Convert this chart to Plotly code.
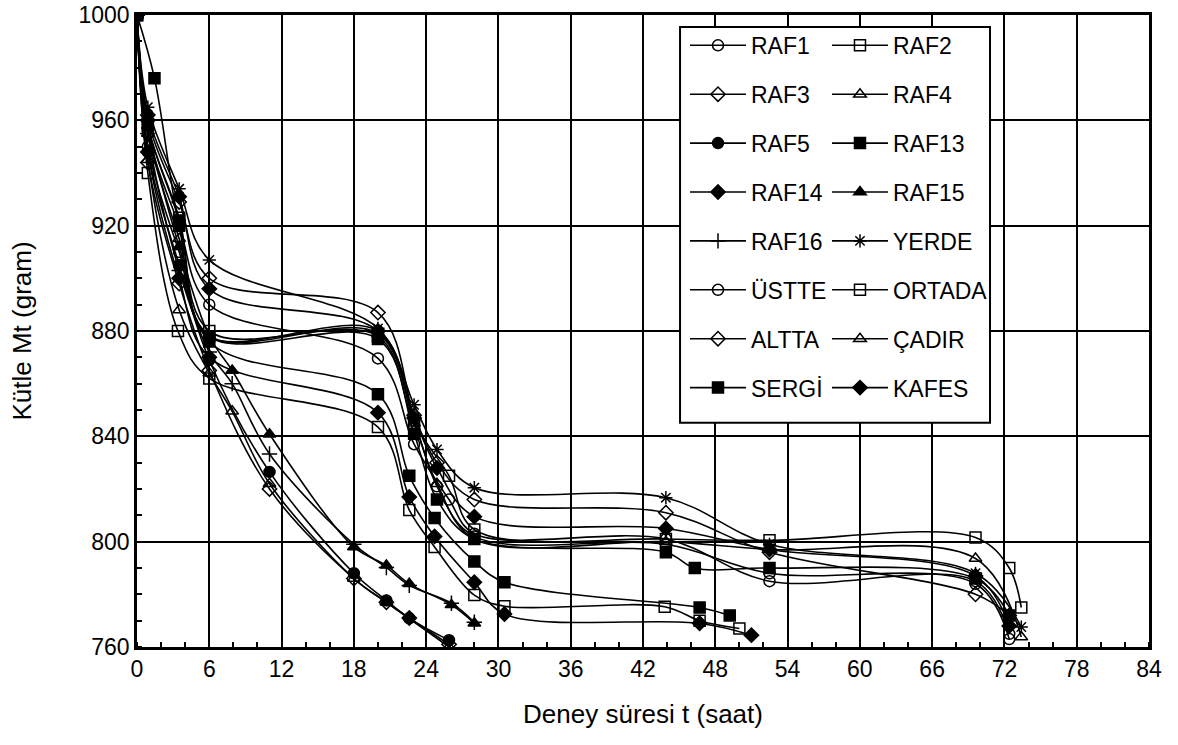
import plotly.graph_objects as go

# ---------------- data (time in hours, mass in grams) ----------------
t_raf1 = [0, 0.9, 3.5, 6, 20, 23, 24.9, 28, 43.9, 52.5, 69.6, 72.4]
m_raf1 = [1000, 950, 910, 878, 880, 846, 821, 802, 799, 788, 784, 763]

t_raf2 = [0, 0.9, 3.4, 6, 20, 22.6, 24.7, 28, 30.5, 43.8, 46.7, 50.0]
m_raf2 = [1000, 940, 880, 862, 843.5, 812, 798, 779.7, 775.5, 775.3, 770, 767]

t_raf3 = [0, 0.9, 3.5, 6, 11, 18, 20.7, 22.6, 25.9]
m_raf3 = [1000, 944, 898, 865, 820, 786, 777, 771, 761]

t_raf4 = [0, 0.9, 3.5, 6, 7.9, 11, 18, 20.7, 25.9]
m_raf4 = [1000, 945, 888, 864, 849.5, 822, 786, 777, 760]

t_raf5 = [0, 0.9, 3.5, 6, 11, 18, 20.7, 22.6, 25.9]
m_raf5 = [1000, 948, 905, 869, 826.5, 788, 777.7, 770.9, 762.6]

t_raf13 = [0, 0.9, 3.5, 6, 20, 22.6, 24.7, 28, 30.5, 46.7, 49.2]
m_raf13 = [1000, 958, 922, 876, 856, 825, 809, 792.5, 784.6, 775, 772]

t_raf14 = [0, 0.9, 3.5, 6, 20, 22.6, 24.7, 28, 30.5, 46.7, 51.0]
m_raf14 = [1000, 948, 900, 870, 849, 817, 802, 784.6, 772.5, 769, 764.5]

t_raf15 = [0, 0.9, 3.5, 6, 7.9, 11, 18, 20.7, 22.6, 26.1, 28.0]
m_raf15 = [1000, 958, 912, 878, 865, 840.8, 798, 791, 784, 776, 769]

t_raf16 = [0, 0.9, 3.5, 6, 7.9, 11, 18, 20.7, 22.6, 26.1, 28.0]
m_raf16 = [1000, 955, 903, 872, 860, 833.3, 799, 790.2, 783.4, 776.6, 769.4]

t_yerde = [0, 0.9, 3.5, 6, 20, 23, 24.9, 28, 43.9, 52.5, 69.6, 73.4]
m_yerde = [1000, 965, 934, 907, 881, 852, 835, 820.5, 816.7, 799, 788, 767.6]

t_ustte = [0, 0.9, 3.5, 6, 20, 23, 25.9, 28, 43.9, 52.5, 69.6, 72.4]
m_ustte = [1000, 955, 920, 890, 869.6, 837, 816, 803, 801, 785, 785, 765]

t_ortada = [0, 0.9, 3.5, 6, 20, 23, 25.9, 28, 43.9, 52.5, 69.6, 72.4, 73.4]
m_ortada = [1000, 958, 923, 880, 878, 845, 825, 804.6, 801, 800.5, 801.6, 790, 775]

t_altta = [0, 0.9, 3.5, 6, 20, 23, 24.9, 28, 43.9, 52.5, 69.6, 72.4]
m_altta = [1000, 960, 929, 900, 887, 848, 830, 816, 811, 796, 780, 772]

t_cadir = [0, 0.9, 3.5, 6, 20, 23, 24.9, 28, 43.9, 52.5, 69.6, 73.4]
m_cadir = [1000, 955, 915, 878, 879, 845, 822, 801, 800, 797, 793.6, 763.8]

t_sergi = [0, 1.45, 3.5, 6, 20, 23, 24.9, 28, 43.9, 46.3, 52.5, 69.6, 72.4]
m_sergi = [1000, 976, 920, 878, 877, 841, 816, 801, 796, 790, 790, 786, 772]

t_kafes = [0, 0.9, 3.5, 6, 20, 23, 24.9, 28, 43.9, 52.5, 69.6, 72.4]
m_kafes = [1000, 962, 931, 896, 880, 847, 828, 809.5, 805, 797, 787, 768]

x_ticks = [0, 6, 12, 18, 24, 30, 36, 42, 48, 54, 60, 66, 72, 78, 84]
y_ticks = [760, 800, 840, 880, 920, 960, 1000]

# ---------------- figure ----------------
series = [
    ("RAF1", t_raf1, m_raf1, "circle-open", "legend"),
    ("RAF3", t_raf3, m_raf3, "diamond-open", "legend"),
    ("RAF5", t_raf5, m_raf5, "circle", "legend"),
    ("RAF14", t_raf14, m_raf14, "diamond", "legend"),
    ("RAF16", t_raf16, m_raf16, "cross-thin-open", "legend"),
    ("ÜSTTE", t_ustte, m_ustte, "circle-open", "legend"),
    ("ALTTA", t_altta, m_altta, "diamond-open", "legend"),
    ("SERGİ", t_sergi, m_sergi, "square", "legend"),
    ("RAF2", t_raf2, m_raf2, "square-open", "legend2"),
    ("RAF4", t_raf4, m_raf4, "triangle-up-open", "legend2"),
    ("RAF13", t_raf13, m_raf13, "square", "legend2"),
    ("RAF15", t_raf15, m_raf15, "triangle-up", "legend2"),
    ("YERDE", t_yerde, m_yerde, "asterisk-open", "legend2"),
    ("ORTADA", t_ortada, m_ortada, "square-open", "legend2"),
    ("ÇADIR", t_cadir, m_cadir, "triangle-up-open", "legend2"),
    ("KAFES", t_kafes, m_kafes, "diamond", "legend2"),
]

fig = go.Figure()
for name, t, m, sym, leg in series:
    fig.add_trace(go.Scatter(
        x=t, y=m, name=name, mode="lines+markers",
        line=dict(color="black", width=1.6, shape="spline", smoothing=1.0),
        marker=dict(symbol=sym, size=11, color="black",
                    line=dict(color="black", width=1.5)),
        legend=leg, legendgroup=name,
    ))

FONT = "Liberation Sans, Arial, sans-serif"
axis_common = dict(
    showgrid=True, gridcolor="black", gridwidth=2,
    showline=True, linecolor="black", linewidth=2.5, mirror=True,
    ticks="", zeroline=False, ticklabeloverflow="allow",
    tickfont=dict(family=FONT, size=23, color="black"),
)

fig.update_xaxes(
    range=[0, 84], tickvals=x_ticks, automargin="bottom",
    minor=dict(dtick=2, ticks="inside", ticklen=5, tickcolor="black", tickwidth=1.5, showgrid=False),
    title=dict(text="Deney süresi t (saat)", font=dict(family=FONT, size=26, color="black"), standoff=24),
    **axis_common,
)
fig.update_yaxes(
    range=[760, 1000], tickvals=y_ticks, automargin="left",
    minor=dict(dtick=10, ticks="inside", ticklen=5, tickcolor="black", tickwidth=1.5, showgrid=False),
    title=dict(text="Kütle Mt (gram)", font=dict(family=FONT, size=26, color="black"), standoff=40),
    **axis_common,
)

legend_common = dict(
    bgcolor="rgba(0,0,0,0)", borderwidth=0,
    font=dict(family=FONT, size=23, color="black"),
    xanchor="left", yanchor="top", orientation="v",
    tracegroupgap=16, itemwidth=56, traceorder="grouped",
)

fig.update_layout(
    width=1178, height=745,
    margin=dict(l=137, r=29, t=15, b=98),
    paper_bgcolor="white", plot_bgcolor="white",
    font=dict(family=FONT, color="black"),
    legend=dict(x=0.5415, y=0.986, **legend_common),
    legend2=dict(x=0.6818, y=0.986, **legend_common),
    shapes=[dict(type="rect", xref="paper", yref="paper",
                 x0=0.5366, x1=0.8429, y0=0.355, y1=0.981,
                 line=dict(color="black", width=2), fillcolor="white", layer="above")],
)

fig.write_html("out.html")
